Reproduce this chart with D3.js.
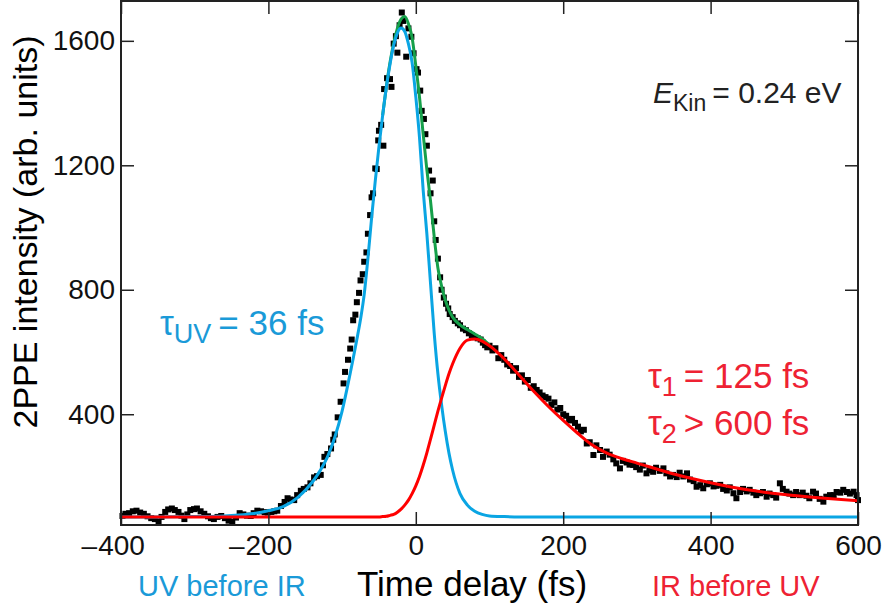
<!DOCTYPE html>
<html>
<head>
<meta charset="utf-8">
<script src="https://cdn.jsdelivr.net/npm/d3@7"></script>
<style>
  body { margin: 0; background: #fff; }
  svg text { font-family: "Liberation Sans", Arial, Helvetica, sans-serif; }
</style>
</head>
<body>
<div id="chart"></div>
<script>
// measured 2PPE counts [delay (fs), intensity]
const points = [
  [-398,73],[-394,80],[-389,82],[-384,88],[-379,90],[-374,84],[-369,80],[-364,72],[-359,66],[-354,63],
  [-349,55],[-345,70],[-340,86],[-336,94],[-331,97],[-327,92],[-322,86],[-318,74],[-314,63],[-310,78],
  [-306,92],[-301,95],[-297,97],[-292,88],[-287,80],[-282,72],[-278,66],[-274,63],[-269,70],[-264,73],
  [-259,66],[-254,58],[-249,55],[-244,68],[-239,82],[-234,78],[-229,74],[-224,73],[-220,82],[-215,90],
  [-210,88],[-205,85],[-201,84],[-196,86],[-192,88],[-188,90],[-183,105],[-178,118],[-174,130],[-170,126],
  [-165,124],[-161,140],[-156,154],[-152,160],[-147,165],[-143,178],[-138,197],[-134,201],[-129,205],[-126,236],
  [-124,263],[-120,272],[-115,290],[-112,318],[-110,335],[-106,390],[-102,440],[-98,499],[-96,536],[-92,575],
  [-89,611],[-87,640],[-85,702],[-82,720],[-80,760],[-77,790],[-75,830],[-72,850],[-70,890],[-67,920],
  [-65,980],[-62,1040],[-60,1097],[-58,1110],[-55,1190],[-53,1188],[-51,1280],[-50,1311],[-47,1330],[-44,1263],
  [-43,1445],[-39,1480],[-35,1477],[-33,1452],[-30,1591],[-27,1615],[-25,1562],[-22,1650],[-19,1691],[-17,1664],
  [-13,1549],[-10,1640],[-6,1613],[-3,1560],[1,1509],[3,1498],[6,1440],[8,1375],[11,1349],[13,1300],
  [15,1263],[18,1183],[20,1110],[23,1151],[25,1020],[27,960],[30,900],[33,840],[35,800],[38,775],
  [41,755],[44,740],[46,722],[50,712],[53,700],[57,692],[60,686],[64,675],[68,670],[72,660],
  [76,654],[80,648],[84,644],[88,640],[91,630],[94,622],[97,615],[100,620],[104,605],[108,612],
  [112,580],[116,590],[120,575],[124,560],[128,555],[132,540],[136,548],[140,520],[144,525],[148,505],
  [152,510],[156,485],[160,490],[164,478],[168,470],[172,460],[176,455],[180,450],[184,430],[188,438],
  [192,415],[196,420],[200,400],[204,395],[208,380],[212,385],[216,372],[220,360],[224,345],[228,350],
  [232,306],[236,310],[241,269],[245,300],[250,285],[254,263],[259,280],[263,270],[268,255],[272,242],
  [277,226],[281,250],[286,245],[290,238],[295,237],[299,230],[304,222],[308,235],[313,210],[317,220],
  [322,215],[326,228],[331,218],[336,226],[340,210],[345,200],[349,205],[354,198],[358,212],[363,200],
  [368,210],[372,190],[377,185],[381,167],[386,172],[390,162],[395,175],[399,178],[404,168],[408,170],
  [413,173],[417,160],[422,155],[426,165],[431,146],[435,130],[440,150],[444,160],[449,152],[453,157],
  [458,148],[462,140],[467,146],[471,150],[476,135],[480,145],[485,140],[489,132],[494,178],[498,160],
  [503,151],[507,145],[512,140],[516,150],[521,140],[525,148],[530,138],[534,130],[539,151],[543,145],
  [548,128],[553,119],[557,135],[562,140],[567,140],[571,150],[576,148],[580,157],[585,150],[589,145],
  [594,151],[598,140],[600,124]
];

// fit curves sampled on a common delay grid
const fitT = [-400,-350,-300,-260,-240,-220,-200,
  -180,-160,-140,-130,-120,-110,-100,-90,-80,-75,-70,-65,-60,-55,-50,-45,-40,-35,
  -30,-25,-20,-15,-10,-5,0,5,10,15,20,25,30,35,40,45,
  50,60,70,80,90,100,
  120,140,160,180,200,220,240,260,280,300,
  350,400,450,500,550,600];
const uvFit = [70,70,71,73,76,81,90,
  103,133,183,218,262,325,410,520,640,705,785,900,1030,1150,1260,1360,1450,1525,
  1585,1625,1641,1630,1590,1530,1420,1290,1120,980,820,660,530,430,345,275,
  220,145,108,88,78,73,
  71,70,70,70,70,70,70,70,70,70,
  70,70,70,70,70,70];
const irFit = [70,70,70,70,70,70,70,
  70,70,70,70,70,70,70,70,70,70,70,70,70,70,70,71,72,75,
  78,85,95,108,124,145,170,200,236,276,320,365,410,452,492,530,
  562,612,638,642,635,620,
  578,526,474,425,380,338,300,274,257,243,
  208,180,157,142,131,122];
// sum of both components around time zero
const sumT = [-45,-40,-35,-30,-25,-20,-15,-10,-5,0,5,10,15,20,25,30,35,40,45,50,60,70,80,90,100];
const sumFit = [1361,1452,1530,1593,1640,1670,1678,1655,1610,1520,1420,1300,1186,1085,970,870,812,767,735,712,687,672,658,643,623];

const xTicks = [-400, -200, 0, 200, 400, 600];
const yTicks = [400, 800, 1200, 1600];

const W = 886, H = 609;
const margin = {top: 1, right: 28, bottom: 84, left: 121};
const width = W - margin.left - margin.right;
const height = H - margin.top - margin.bottom;

const BLUE = "#0aa5e3", RED = "#ff0000", GREEN = "#16a04a";
const BLUE_TXT = "#1a9ad8", RED_TXT = "#ee2233";

const svg = d3.select("#chart").append("svg")
  .attr("width", W).attr("height", H);
const g = svg.append("g").attr("transform", "translate(" + margin.left + "," + margin.top + ")");

const x = d3.scaleLinear().domain([-400, 600]).range([0, width]);
const y = d3.scaleLinear().domain([44, 1728]).range([height, 0]);

// data squares
g.selectAll("rect.pt")
  .data(points)
  .enter()
  .append("rect")
  .attr("class", "pt")
  .attr("x", d => x(d[0]) - 3)
  .attr("y", d => y(d[1]) - 3)
  .attr("width", 6).attr("height", 6)
  .attr("fill", "#000");

const line = (ts, vs) => d3.line()
  .x((d, i) => x(ts[i]))
  .y(d => y(d))
  .curve(d3.curveMonotoneX)(vs);

g.append("path").attr("d", line(sumT, sumFit))
  .attr("fill", "none").attr("stroke", GREEN).attr("stroke-width", 3);
g.append("path").attr("d", line(fitT, uvFit))
  .attr("fill", "none").attr("stroke", BLUE).attr("stroke-width", 3);
g.append("path").attr("d", line(fitT, irFit))
  .attr("fill", "none").attr("stroke", RED).attr("stroke-width", 3);

// axes, ticks inward on all sides
const fontTick = 28;
const xb = g.append("g").attr("transform", "translate(0," + height + ")")
  .call(d3.axisBottom(x).tickValues(xTicks).tickSize(-13).tickPadding(10)
    .tickFormat(d => Math.abs(d)));
g.append("g").call(d3.axisTop(x).tickValues(xTicks).tickSize(-13).tickFormat(""));
g.append("g")
  .call(d3.axisLeft(y).tickValues(yTicks).tickSize(-13).tickPadding(6).tickFormat(d3.format("d")));
g.append("g").attr("transform", "translate(" + width + ",0)")
  .call(d3.axisRight(y).tickValues(yTicks).tickSize(-13).tickFormat(""));

g.selectAll(".domain").remove();
g.selectAll(".tick line").attr("stroke", "#222").attr("stroke-width", 1.5);
g.selectAll(".tick text").attr("fill", "#111").style("font-size", fontTick + "px")
  .style("font-family", "'Liberation Sans', Arial, sans-serif");

// minus sign hangs left of the centred digits
xb.selectAll(".tick").each(function(d) {
  if (d >= 0) return;
  const t = d3.select(this).select("text");
  const w = t.node().getComputedTextLength();
  d3.select(this).append("text")
    .text("\u2013")
    .attr("x", -w / 2 - 1)
    .attr("y", t.attr("y"))
    .attr("dy", t.attr("dy"))
    .attr("text-anchor", "end")
    .attr("fill", "#111")
    .style("font-size", fontTick + "px");
});

g.append("rect")
  .attr("x", 0).attr("y", 0)
  .attr("width", width).attr("height", height)
  .attr("fill", "none").attr("stroke", "#222").attr("stroke-width", 2);

// axis titles
svg.append("text")
  .attr("transform", "translate(37,232) rotate(-90)")
  .attr("text-anchor", "middle")
  .style("font-size", "34px").attr("fill", "#000")
  .text("2PPE intensity (arb. units)");

svg.append("text")
  .attr("x", 357).attr("y", 596)
  .style("font-size", "35px").attr("fill", "#000")
  .text("Time delay (fs)");

svg.append("text")
  .attr("x", 138).attr("y", 596)
  .style("font-size", "29px").attr("fill", BLUE_TXT)
  .text("UV before IR");

svg.append("text")
  .attr("x", 652).attr("y", 596)
  .style("font-size", "29px").attr("fill", RED_TXT)
  .text("IR before UV");

// annotations
const ek = svg.append("text").attr("x", 653).attr("y", 103)
  .style("font-size", "30px").attr("fill", "#222");
ek.append("tspan").style("font-style", "italic").text("E");
ek.append("tspan").attr("dy", 8).style("font-size", "23px").text("Kin");
ek.append("tspan").attr("dy", -8).text("\u2009= 0.24 eV");

const tu = svg.append("text").attr("x", 160).attr("y", 335)
  .style("font-size", "35px").attr("fill", BLUE_TXT);
tu.append("tspan").text("\u03c4");
tu.append("tspan").attr("dy", 8).style("font-size", "27px").text("UV");
tu.append("tspan").attr("dy", -8).text("\u2009= 36 fs");

const t1 = svg.append("text").attr("x", 648).attr("y", 388)
  .style("font-size", "35px").attr("fill", RED_TXT);
t1.append("tspan").text("\u03c4");
t1.append("tspan").attr("dy", 8).style("font-size", "27px").text("1");
t1.append("tspan").attr("dy", -8).text("\u2009= 125 fs");

const t2 = svg.append("text").attr("x", 648).attr("y", 435)
  .style("font-size", "35px").attr("fill", RED_TXT);
t2.append("tspan").text("\u03c4");
t2.append("tspan").attr("dy", 8).style("font-size", "27px").text("2");
t2.append("tspan").attr("dy", -8).text("\u2009> 600 fs");
</script>
</body>
</html>
